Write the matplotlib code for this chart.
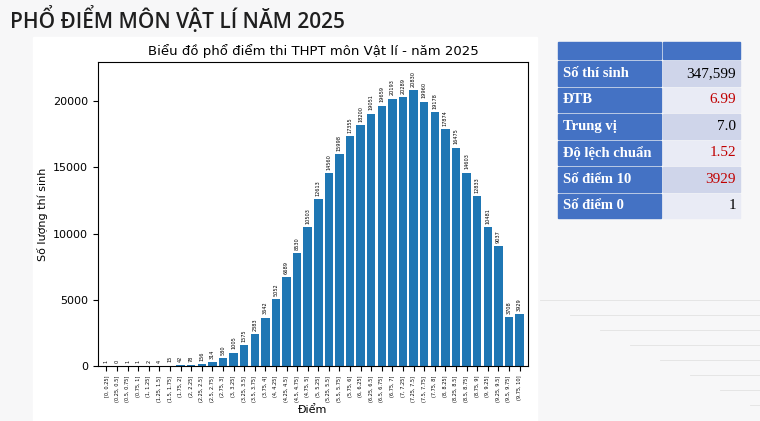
import matplotlib
matplotlib.use("Agg")
import matplotlib.pyplot as plt
from matplotlib.patches import Rectangle

categories = ["[0, 0.25]"] + [f"({a:g}, {a+0.25:g}]" for a in [i*0.25 for i in range(1, 40)]]
counts = [1,0,1,1,2,4,15,42,78,156,314,580,1005,1575,2383,3642,5052,6689,8530,10503,
          12613,14560,15998,17355,18200,19051,19659,20193,20289,20830,19960,19178,17874,
          16475,14603,12833,10481,9037,3708,3929]
stat_labels = ["Số thí sinh", "ĐTB", "Trung vị", "Độ lệch chuẩn", "Số điểm 10", "Số điểm 0"]
stat_values = ["347,599", "6.99", "7.0", "1.52", "3929", "1"]
stat_red = [False, True, False, True, True, False]

W, H = 760, 421
fig = plt.figure(figsize=(W/100, H/100), dpi=100)
fig.patch.set_facecolor("#f7f7f8")
bg = fig.add_axes([0, 0, 1, 1]); bg.axis("off"); bg.set_xlim(0, W); bg.set_ylim(H, 0)
for i in range(8):
    bg.plot([540 + i*30, 760], [300 + i*15, 300 + i*15], color="#e2e2e2", lw=0.6)
bg.add_patch(Rectangle((33, 37), 504, 384, color="white", zorder=1))
bg.text(10, 20, "PHỔ ĐIỂM MÔN VẬT LÍ NĂM 2025", fontsize=15, color="#1f1f1f",
        va="center", ha="left", family="Open Sans", fontweight="semibold")

x0, x1, x2 = 558, 662, 740
row_h = 26.5
ytop = 42
bg.add_patch(Rectangle((x0, ytop), x1 - x0 - 1, 17, color="#4472c4", zorder=2))
bg.add_patch(Rectangle((x1 + 1, ytop), x2 - x1 - 1, 17, color="#4472c4", zorder=2))
y = ytop + 19
for i, (lab, val, red) in enumerate(zip(stat_labels, stat_values, stat_red)):
    bg.add_patch(Rectangle((x0, y), x1 - x0 - 1, row_h - 2, color="#4472c4", zorder=2))
    bg.add_patch(Rectangle((x1 + 1, y), x2 - x1 - 1, row_h - 2,
                           color="#cfd5ea" if i % 2 == 0 else "#e9ebf5", zorder=2))
    bg.text(x0 + 5, y + row_h/2 - 1, lab, color="white", fontsize=10.5, fontweight="bold",
            family="Liberation Serif", va="center", zorder=3)
    bg.text(x2 - 4, y + row_h/2 - 1, val, color="#c00000" if red else "black", fontsize=11,
            family="Liberation Serif", va="center", ha="right", zorder=3)
    y += row_h

ax = fig.add_axes([98/W, 1 - 366/H, 430/W, 304/H])
xs = range(len(counts))
ax.bar(xs, counts, color="#1f77b4", width=0.8)
for x, c in zip(xs, counts):
    ax.text(x, c + 250, str(c), rotation=90, ha="center", va="bottom", fontsize=3.6)
ax.set_xticks(list(xs))
ax.set_xticklabels(categories, rotation=90, fontsize=3.6)
ax.set_xlim(-0.8, len(counts) - 0.2)
ax.set_ylim(0, 22950)
ax.set_yticks([0, 5000, 10000, 15000, 20000])
ax.tick_params(axis="y", labelsize=8)
ax.set_title("Biểu đồ phổ điểm thi THPT môn Vật lí - năm 2025", fontsize=9.5, pad=5)
ax.set_xlabel("Điểm", fontsize=8, labelpad=2)
ax.set_ylabel("Số lượng thí sinh", fontsize=8)
fig.savefig("out.png", dpi=100, facecolor=fig.get_facecolor())
